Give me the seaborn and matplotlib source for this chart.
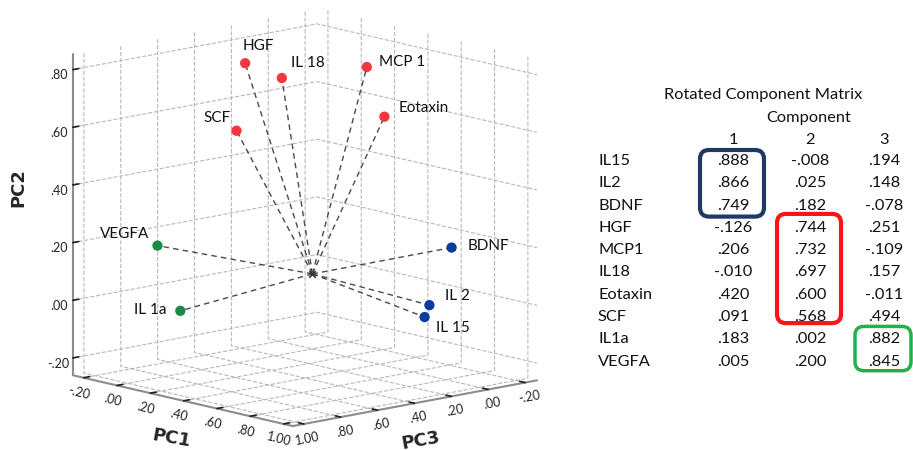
import matplotlib.pyplot as plt
import seaborn as sns
from matplotlib.patches import FancyBboxPatch
from matplotlib.ticker import FixedLocator, FuncFormatter
from matplotlib.transforms import offset_copy

# rotated component matrix (loadings)
variables = ["IL15", "IL2", "BDNF", "HGF", "MCP1", "IL18", "Eotaxin", "SCF", "IL1a", "VEGFA"]
point_labels = ["IL 15", "IL 2", "BDNF", "HGF", "MCP 1", "IL 18", "Eotaxin", "SCF", "IL 1a", "VEGFA"]
comp1 = [0.888, 0.866, 0.749, -0.126, 0.206, -0.010, 0.420, 0.091, 0.183, 0.005]
comp2 = [-0.008, 0.025, 0.182, 0.744, 0.732, 0.697, 0.600, 0.568, 0.002, 0.200]
comp3 = [0.194, 0.148, -0.078, 0.251, -0.109, 0.157, -0.011, 0.494, 0.882, 0.845]
groups = [1, 1, 1, 2, 2, 2, 2, 2, 3, 3]
axis_ticks = [-0.2, 0.0, 0.2, 0.4, 0.6, 0.8, 1.0]
pc2_ticks = [-0.2, 0.0, 0.2, 0.4, 0.6, 0.8]

point_colors = {1: "#0b3c9e", 2: "#f0393e", 3: "#1a8b48"}
box_colors = {1: "#1f3864", 2: "#ff1414", 3: "#22b04b"}
# label offset from the marker in pixels (dx, dy, ha)
label_offsets = {
    "HGF": (-3, 17, "left"), "IL 18": (9, 15, "left"), "MCP 1": (12, 5, "left"),
    "Eotaxin": (14, 9, "left"), "SCF": (-6, 13, "right"), "VEGFA": (-8, 12, "right"),
    "IL 1a": (-14, 1, "right"), "BDNF": (16, 2, "left"), "IL 2": (16, 9, "left"),
    "IL 15": (11, -11, "left"),
}

sns.set_theme(style="white")
plt.rcParams["font.family"] = ["Lato", "DejaVu Sans"]
plt.rcParams["grid.color"] = "#b8b8b8"
plt.rcParams["grid.linestyle"] = "--"
plt.rcParams["grid.linewidth"] = 0.8

fig = plt.figure(figsize=(9.13, 4.5), dpi=100)
ax = fig.add_axes([79 / 913, 7 / 450, 440 / 913, 440 / 450], projection="3d", proj_type="ortho")
ax.view_init(elev=12, azim=48)
ax.set_box_aspect((1, 1, 1), zoom=1.256)
ax.computed_zorder = False

# x = PC3, y = PC1, z = PC2
ax.set_xlim(-0.265, 1.06)
ax.set_ylim(-0.265, 1.055)
ax.set_zlim(-0.26, 0.855)
fmt = FuncFormatter(lambda v, _: f"{v:.2f}".replace("0.", "."))
for axis, ticks in [(ax.xaxis, axis_ticks), (ax.yaxis, axis_ticks), (ax.zaxis, pc2_ticks)]:
    axis.set_major_locator(FixedLocator(ticks))
    axis.set_major_formatter(fmt)
    axis.set_pane_color((1, 1, 1, 0))
    axis.pane.set_edgecolor("none")
    axis.line.set_color("#8c8c8c")
    axis.line.set_linewidth(1.5)
    axis._axinfo["tick"]["inward_factor"] = 0.0
    axis._axinfo["tick"]["outward_factor"] = 0.3
    axis._axinfo["tick"]["color"] = "#555555"
ax.tick_params(labelsize=9, colors="#222222", pad=-5)
ax.tick_params(axis="z", pad=-3)
ax.tick_params(axis="y", labelrotation=-14)
ax.tick_params(axis="x", labelrotation=11)
ax.set_facecolor("none")

for c1, c2, c3 in zip(comp1, comp2, comp3):
    ax.plot([0, c3], [0, c1], [0, c2], ls=(0, (4, 3)), color="#4a4a4a", lw=1, zorder=2)
ax.scatter([0], [0], [0], marker="x", color="#333333", s=22, linewidths=1.2, zorder=3)
ax.scatter(comp3, comp1, comp2, c=[point_colors[g] for g in groups], s=55,
           depthshade=False, edgecolors="none", alpha=1, zorder=4)
for lab, c1, c2, c3 in zip(point_labels, comp1, comp2, comp3):
    dx, dy, ha = label_offsets[lab]
    ax.text(c3, c1, c2, lab, ha=ha, va="center", fontsize=11, color="#111111", zorder=5,
            transform=offset_copy(ax.transData, fig=fig, x=dx, y=dy, units="dots"))

fig.text(18 / 913, 1 - 188 / 450, "PC2", rotation=90, ha="center", va="center",
         fontsize=13, fontweight="bold", family="DejaVu Sans")
fig.text(171 / 913, 1 - 438 / 450, "PC1", rotation=-10, ha="center", va="center",
         fontsize=13, fontweight="bold", family="DejaVu Sans")
fig.text(421 / 913, 1 - 441 / 450, "PC3", rotation=10, ha="center", va="center",
         fontsize=13, fontweight="bold", family="DejaVu Sans")

# table panel in pixel coordinates
tab = fig.add_axes([0, 0, 1, 1])
tab.set_xlim(0, 913)
tab.set_ylim(450, 0)
tab.set_xticks([])
tab.set_yticks([])
tab.axis("off")
tab.patch.set_alpha(0)

col_x = [733, 810, 884]
row_y0, row_step = 161, 22.3
fs = 11.8
tab.text(763, 95, "Rotated Component Matrix", ha="center", va="center", fontsize=fs, color="#111111")
tab.text(809, 118, "Component", ha="center", va="center", fontsize=fs, color="#111111")
for i, x in enumerate(col_x):
    tab.text(x, 140, str(i + 1), ha="center", va="center", fontsize=fs, color="#111111")
for r, name in enumerate(variables):
    y = row_y0 + r * row_step
    tab.text(598, y, name, ha="left", va="center", fontsize=fs, color="#111111")
    for x, vals in zip(col_x, [comp1, comp2, comp3]):
        tab.text(x, y, f"{vals[r]:.3f}".replace("0.", "."), ha="center", va="center",
                 fontsize=fs, color="#111111")

# rounded boxes around the dominant loadings of each component
box_pads = {1: (11, 11), 2: (14, 6), 3: (13, 9)}
for g in [1, 2, 3]:
    rows = [r for r, gg in enumerate(groups) if gg == g]
    x = col_x[g - 1]
    pad_top, pad_bottom = box_pads[g]
    top = row_y0 + rows[0] * row_step - pad_top
    bottom = row_y0 + rows[-1] * row_step + pad_bottom
    half = 31 if g < 3 else 27
    tab.add_patch(FancyBboxPatch((x - half - 2, top), 2 * half + 2, bottom - top,
                                 boxstyle="round,pad=0,rounding_size=9", fill=False,
                                 ec=box_colors[g], lw=3 if g < 3 else 2.5))

fig.savefig("out.png", dpi=100)
